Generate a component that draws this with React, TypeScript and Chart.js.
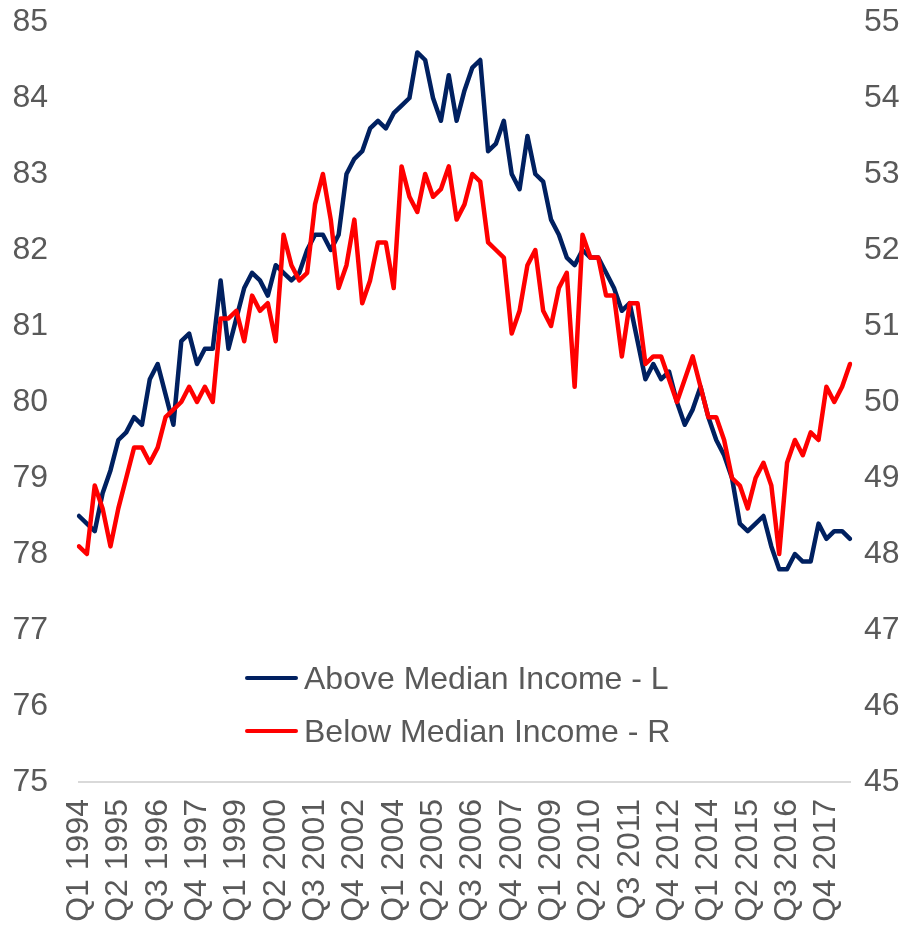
import React, { useEffect, useRef } from "react";
import { Chart, registerables } from "chart.js";

Chart.register(...registerables);

const START_YEAR = 1994;
const QUARTER_COUNT = 99;
const LABEL_EVERY = 5;

const categories: string[] = [];
for (let i = 0; i < QUARTER_COUNT; i++) {
  categories.push(`Q${(i % 4) + 1} ${START_YEAR + Math.floor(i / 4)}`);
}

const aboveMedian: number[] = [
  78.5, 78.4, 78.3, 78.8, 79.1, 79.5, 79.6, 79.8, 79.7, 80.3,
  80.5, 80.1, 79.7, 80.8, 80.9, 80.5, 80.7, 80.7, 81.6, 80.7,
  81.1, 81.5, 81.7, 81.6, 81.4, 81.8, 81.7, 81.6, 81.7, 82.0,
  82.2, 82.2, 82.0, 82.2, 83.0, 83.2, 83.3, 83.6, 83.7, 83.6,
  83.8, 83.9, 84.0, 84.6, 84.5, 84.0, 83.7, 84.3, 83.7, 84.1,
  84.4, 84.5, 83.3, 83.4, 83.7, 83.0, 82.8, 83.5, 83.0, 82.9,
  82.4, 82.2, 81.9, 81.8, 82.0, 81.9, 81.9, 81.7, 81.5, 81.2,
  81.3, 80.8, 80.3, 80.5, 80.3, 80.4, 80.0, 79.7, 79.9, 80.2,
  79.8, 79.5, 79.3, 79.0, 78.4, 78.3, 78.4, 78.5, 78.1, 77.8,
  77.8, 78.0, 77.9, 77.9, 78.4, 78.2, 78.3, 78.3, 78.2,
];

const belowMedian: number[] = [
  48.1, 48.0, 48.9, 48.6, 48.1, 48.6, 49.0, 49.4, 49.4, 49.2,
  49.4, 49.8, 49.9, 50.0, 50.2, 50.0, 50.2, 50.0, 51.1, 51.1,
  51.2, 50.8, 51.4, 51.2, 51.3, 50.8, 52.2, 51.8, 51.6, 51.7,
  52.6, 53.0, 52.4, 51.5, 51.8, 52.4, 51.3, 51.6, 52.1, 52.1,
  51.5, 53.1, 52.7, 52.5, 53.0, 52.7, 52.8, 53.1, 52.4, 52.6,
  53.0, 52.9, 52.1, 52.0, 51.9, 50.9, 51.2, 51.8, 52.0, 51.2,
  51.0, 51.5, 51.7, 50.2, 52.2, 51.9, 51.9, 51.4, 51.4, 50.6,
  51.3, 51.3, 50.5, 50.6, 50.6, 50.3, 50.0, 50.3, 50.6, 50.2,
  49.8, 49.8, 49.5, 49.0, 48.9, 48.6, 49.0, 49.2, 48.9, 48.0,
  49.2, 49.5, 49.3, 49.6, 49.5, 50.2, 50.0, 50.2, 50.5,
];

const LEFT_MIN = 75;
const LEFT_MAX = 85;
const RIGHT_MIN = 45;
const RIGHT_MAX = 55;

const SERIES_NAMES = ["Above Median Income - L", "Below Median Income - R"];
const NAVY = "#002060";
const RED = "#FF0000";
const TEXT = "#595959";
const FONT = "'Liberation Sans', Arial, sans-serif";

export default function App() {
  const ref = useRef<HTMLCanvasElement | null>(null);

  useEffect(() => {
    document.body.style.margin = "0";
    const canvas = ref.current;
    if (!canvas) return;
    const chart = new Chart(canvas, {
      type: "line",
      data: {
        labels: categories,
        datasets: [
          {
            label: SERIES_NAMES[0],
            data: aboveMedian,
            yAxisID: "y",
            borderColor: NAVY,
            borderWidth: 4.5,
            pointRadius: 0,
            tension: 0,
            borderJoinStyle: "round",
            borderCapStyle: "round",
            order: 1,
          },
          {
            label: SERIES_NAMES[1],
            data: belowMedian,
            yAxisID: "y1",
            borderColor: RED,
            borderWidth: 4.5,
            pointRadius: 0,
            tension: 0,
            borderJoinStyle: "round",
            borderCapStyle: "round",
            order: 0,
          },
        ],
      },
      options: {
        responsive: false,
        animation: false,
        devicePixelRatio: 1,
        layout: { padding: { top: 22, left: 0, right: 0, bottom: 0 } },
        plugins: {
          legend: { display: false },
          tooltip: { enabled: false },
        },
        scales: {
          x: {
            type: "category",
            offset: false,
            grid: { display: false, drawTicks: false },
            border: { display: true, color: "#d9d9d9", width: 2 },
            ticks: {
              autoSkip: false,
              maxRotation: 90,
              minRotation: 90,
              padding: 17,
              color: TEXT,
              font: { family: FONT, size: 32 },
              callback: (_v: any, i: number) =>
                i % LABEL_EVERY === 0 ? categories[i] : "",
            },
            afterFit: (s: any) => {
              s.height = 144;
            },
          },
          y: {
            position: "left",
            min: LEFT_MIN,
            max: LEFT_MAX,
            grid: { display: false, drawTicks: false },
            border: { display: false },
            ticks: {
              stepSize: 1,
              padding: 31,
              color: TEXT,
              font: { family: FONT, size: 32 },
            },
            afterFit: (s: any) => {
              s.width = 79;
              s.paddingTop = 0;
              s.paddingBottom = 0;
            },
          },
          y1: {
            position: "right",
            min: RIGHT_MIN,
            max: RIGHT_MAX,
            grid: { display: false, drawTicks: false },
            border: { display: false },
            ticks: {
              stepSize: 1,
              padding: 14,
              color: TEXT,
              font: { family: FONT, size: 32 },
            },
            afterFit: (s: any) => {
              s.width = 67;
              s.paddingTop = 0;
              s.paddingBottom = 0;
            },
          },
        },
      },
    });
    return () => chart.destroy();
  }, []);

  const legendItem = (name: string, color: string, lineY: number, textTop: number) => (
    <React.Fragment key={name}>
      <div
        style={{
          position: "absolute",
          left: 245,
          top: lineY - 2.25,
          width: 53,
          height: 4.5,
          borderRadius: 2.25,
          background: color,
        }}
      />
      <div
        style={{
          position: "absolute",
          left: 304,
          top: textTop,
          fontFamily: FONT,
          fontSize: 32,
          lineHeight: "32px",
          color: TEXT,
          whiteSpace: "nowrap",
        }}
      >
        {name}
      </div>
    </React.Fragment>
  );

  return (
    <div style={{ position: "absolute", left: 0, top: 0, width: 917, height: 926, background: "#fff" }}>
      <canvas ref={ref} width={917} height={926} style={{ width: 917, height: 926, display: "block" }} />
      {legendItem(SERIES_NAMES[0], NAVY, 678, 662)}
      {legendItem(SERIES_NAMES[1], RED, 731, 715)}
    </div>
  );
}
